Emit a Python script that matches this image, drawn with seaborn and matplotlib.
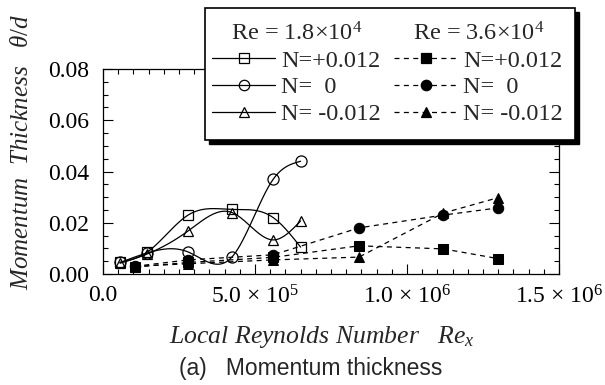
import numpy as np
import pandas as pd
import matplotlib
matplotlib.use("Agg")
import matplotlib.pyplot as plt
from matplotlib.lines import Line2D
from matplotlib.patches import Rectangle
from matplotlib.ticker import MultipleLocator, FuncFormatter
import seaborn as sns

# ---- data -------------------------------------------------------------
# Re = 1.8x10^4 (open markers, smooth solid curves)
rex_lo = [0.56e5, 1.45e5, 2.8e5, 4.24e5, 5.6e5, 6.5e5]
theta_lo_pos = [0.0045, 0.0085, 0.0230, 0.0252, 0.0220, 0.0105]
theta_lo_zero = [0.0045, 0.0082, 0.0086, 0.0066, 0.0370, 0.0440]
theta_lo_neg = [0.0042, 0.0078, 0.0168, 0.0240, 0.0133, 0.0207]

# Re = 3.6x10^4 (filled markers, dashed straight lines)
rex_hi = [1.05e5, 2.8e5, 5.6e5, 8.42e5, 1.12e6, 1.30e6]
theta_hi_pos = [0.0027, 0.0045, 0.0065, 0.0110, 0.0098, 0.0060]
theta_hi_zero = [0.0030, 0.0055, 0.0075, 0.0180, 0.0230, 0.0258]
theta_hi_neg = [0.0030, 0.0040, 0.0055, 0.0066, 0.0238, 0.0298]

n_labels = ["N=+0.012", "N=  0", "N= -0.012"]
re_labels = ["Re = 1.8\u00d710$^4$", "Re = 3.6\u00d710$^4$"]
xticks = [0.0, 5.0e5, 1.0e6, 1.5e6]
yticks = [0.00, 0.02, 0.04, 0.06, 0.08]

sns.set_style("ticks")
plt.rcParams["font.family"] = ["Liberation Serif", "DejaVu Serif"]
plt.rcParams["mathtext.fontset"] = "custom"
plt.rcParams["mathtext.rm"] = "Liberation Serif"
plt.rcParams["mathtext.it"] = "Liberation Serif:italic"
plt.rcParams["mathtext.default"] = "regular"


def natural_spline(x, y, num=300):
    """Natural cubic spline through (x, y) for drawing a smooth curve."""
    x = np.asarray(x, float)
    y = np.asarray(y, float)
    n = len(x)
    h = np.diff(x)
    A = np.zeros((n, n))
    b = np.zeros(n)
    A[0, 0] = A[-1, -1] = 1.0
    for i in range(1, n - 1):
        A[i, i - 1] = h[i - 1]
        A[i, i] = 2 * (h[i - 1] + h[i])
        A[i, i + 1] = h[i]
        b[i] = 6 * ((y[i + 1] - y[i]) / h[i] - (y[i] - y[i - 1]) / h[i - 1])
    M = np.linalg.solve(A, b)
    xs = np.linspace(x[0], x[-1], num)
    idx = np.clip(np.searchsorted(x, xs) - 1, 0, n - 2)
    x0, x1 = x[idx], x[idx + 1]
    hh = x1 - x0
    ys = (M[idx] * (x1 - xs) ** 3 / (6 * hh) + M[idx + 1] * (xs - x0) ** 3 / (6 * hh)
          + (y[idx] / hh - M[idx] * hh / 6) * (x1 - xs)
          + (y[idx + 1] / hh - M[idx + 1] * hh / 6) * (xs - x0))
    return xs, ys


fig = plt.figure(figsize=(6.05, 3.85), dpi=100)
ax = fig.add_axes([103 / 605, 1 - 274 / 385, 456 / 605, 205 / 385])

markers = ["s", "o", "^"]
msize = 7.5
dash = (0, (4, 3.5))
lo_series = [theta_lo_pos, theta_lo_zero, theta_lo_neg]
hi_series = [theta_hi_pos, theta_hi_zero, theta_hi_neg]

for vals, mk in zip(lo_series, markers):
    xs, ys = natural_spline(rex_lo, vals)
    sns.lineplot(x=xs, y=ys, ax=ax, color="black", lw=0.9, sort=False)
    df = pd.DataFrame({"rex": rex_lo, "theta": vals})
    ax.plot(df["rex"], df["theta"], ls="none", marker=mk,
            ms=msize if mk != "o" else msize + 0.5,
            mfc="none", mec="black", mew=0.9)

for vals, mk in zip(hi_series, markers):
    df = pd.DataFrame({"rex": rex_hi, "theta": vals})
    sns.lineplot(data=df, x="rex", y="theta", ax=ax, color="black", lw=0.9,
                 marker=mk, markersize=msize, markerfacecolor="black",
                 markeredgecolor="black", dashes=False, linestyle=dash)

ax.set_xlim(0, 1.5e6)
ax.set_ylim(0, 0.08)
ax.set_xticks(xticks)
ax.set_yticks(yticks)
ax.xaxis.set_minor_locator(MultipleLocator(5e4))
ax.yaxis.set_minor_locator(MultipleLocator(0.005))


def xfmt(v, pos):
    if v == 0:
        return "0.0"
    exp = int(np.floor(np.log10(v)))
    return f"{v / 10 ** exp:.1f} \u00d7 10$^{{{exp}}}$"


ax.xaxis.set_major_formatter(FuncFormatter(xfmt))
ax.yaxis.set_major_formatter(FuncFormatter(lambda v, p: f"{v:.2f}"))
ax.tick_params(which="both", direction="in", top=True, right=True, width=0.8,
               labelsize=17, colors="black")
ax.tick_params(which="major", length=7)
ax.tick_params(which="minor", length=3.5)
ax.tick_params(axis="x", pad=8)
ax.tick_params(axis="y", pad=10)
for s in ax.spines.values():
    s.set_linewidth(0.9)
    s.set_color("black")
ax.set_xlabel("")
ax.set_ylabel("")

fig.text(322 / 605, 1 - 337 / 385, "Local Reynolds Number   $\\mathit{Re_{x}}$",
         ha="center", va="center", fontsize=18.5, style="italic")
fig.text(22 / 605, 1 - 152 / 385, "Momentum  Thickness   $\\mathit{\\theta/d}$",
         ha="center", va="center", fontsize=18, style="italic", rotation=90)
fig.text(311 / 605, 1 - 368 / 385, "(a)   Momentum thickness",
         ha="center", va="center", fontsize=16.5, family=["Liberation Sans", "DejaVu Sans"])

# legend box with a solid drop shadow
bx0, by0, bw, bh = 205 / 605, 1 - 140 / 385, 370 / 605, 132 / 385
fig.add_artist(Rectangle((bx0 + 4 / 605, by0 - 4 / 385), bw, bh, transform=fig.transFigure,
                         facecolor="black", edgecolor="black", zorder=3.8))
fig.add_artist(Rectangle((bx0, by0), bw, bh, transform=fig.transFigure,
                         facecolor="white", edgecolor="black", lw=1.2, zorder=3.9))

for j, (ls, fill) in enumerate([("-", "none"), (dash, "black")]):
    handles = [Line2D([], [], color="black", lw=0.9, ls=ls, marker=mk, ms=msize,
                      mfc=fill, mec="black", mew=0.9) for mk in markers]
    anchor_x = (212 if j == 0 else 394) / 605
    leg = fig.legend(handles, n_labels, loc="upper left",
                     bbox_to_anchor=(anchor_x, 1 - 22 / 385), frameon=False,
                     fontsize=17.5, title=re_labels[j], title_fontsize=17.5,
                     handlelength=2.6, handletextpad=0.25, labelspacing=0.19,
                     borderpad=0, borderaxespad=0)
    leg.set_zorder(5)

fig.savefig("out.png", dpi=100)
